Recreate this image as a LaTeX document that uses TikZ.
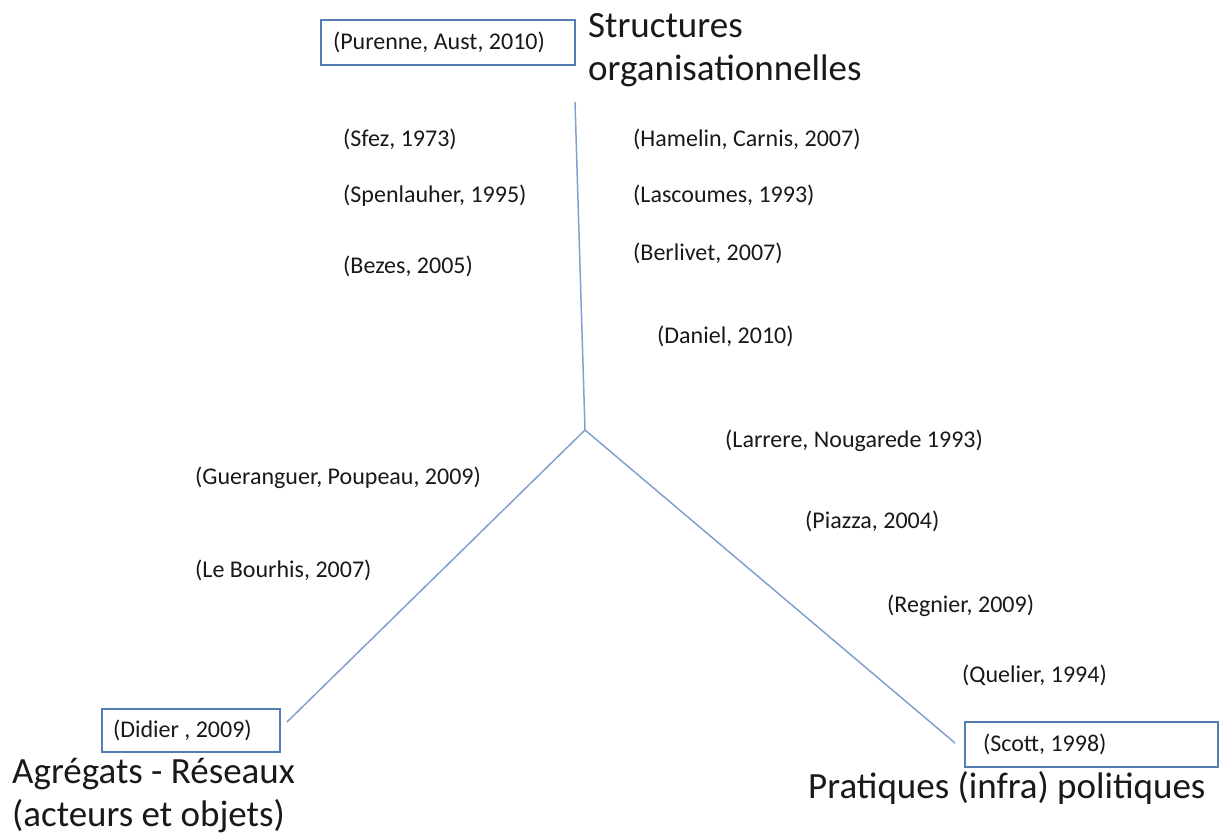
\documentclass[tikz,border=0pt]{standalone}
\usepackage{fontspec}
\setmainfont{Carlito}
\definecolor{linecol}{RGB}{130,160,208}
\definecolor{boxcol}{RGB}{85,125,180}
\definecolor{txtcol}{RGB}{25,25,25}
\begin{document}
\begin{tikzpicture}[x=1pt,y=-1pt,
  ref/.style={anchor=base west,inner sep=0pt,text=txtcol,font=\fontsize{24}{29}\selectfont},
  big/.style={anchor=base west,inner sep=0pt,text=txtcol,align=left,font=\fontsize{37}{43}\selectfont},
  refbox/.style={draw=boxcol,line width=1.2pt,rectangle,text=txtcol,
     font=\fontsize{24}{29}\selectfont,inner ysep=0pt},
  axis/.style={draw=linecol,line width=1.5pt}]
\useasboundingbox (0,0) rectangle (1221,834);
\fill[white] (0,0) rectangle (1221,834);

% hub and axis ends
\coordinate (hub) at (585,430);
\coordinate (topend) at (575,102);
\coordinate (leftend) at (287,722);
\coordinate (rightend) at (955,743);
\draw[axis] (hub) -- (topend);
\draw[axis] (hub) -- (leftend);
\draw[axis] (hub) -- (rightend);

% boxes
\node[refbox,minimum width=254pt,minimum height=45pt,inner xsep=12pt] (purenne) at (448,42.5) {\makebox[230pt][l]{(Purenne, Aust, 2010)}};
\node[refbox,minimum width=178pt,minimum height=43pt,inner xsep=11pt] (didier) at (191,730.5) {\makebox[156pt][l]{(Didier , 2009)}};
\node[refbox,minimum width=253pt,minimum height=45pt,inner xsep=18pt] (scott) at (1091.5,744.5) {\makebox[217pt][l]{(Scott, 1998)}};

% big titles (anchor = baseline of last line)
\node[big] (structures) at (588,81) {Structures\\organisationnelles};
\node[big] (agregats) at (12,826) {Agrégats - Réseaux\\(acteurs et objets)};
\node[big] (pratiques) at (808,798) {Pratiques (infra) politiques};

% references
\node[ref] (sfez) at (343,147) {(Sfez, 1973)};
\node[ref] (spen) at (343,203) {(Spenlauher, 1995)};
\node[ref] (bezes) at (343,274) {(Bezes, 2005)};
\node[ref] (hamelin) at (633,147) {(Hamelin, Carnis, 2007)};
\node[ref] (lasc) at (633,203) {(Lascoumes, 1993)};
\node[ref] (berl) at (633,261) {(Berlivet, 2007)};
\node[ref] (daniel) at (657,344) {(Daniel, 2010)};
\node[ref] (larrere) at (725,447) {(Larrere, Nougarede 1993)};
\node[ref] (guer) at (195,484) {(Gueranguer, Poupeau, 2009)};
\node[ref] (piazza) at (805,528) {(Piazza, 2004)};
\node[ref] (bourhis) at (195,577) {(Le Bourhis, 2007)};
\node[ref] (regnier) at (887,612) {(Regnier, 2009)};
\node[ref] (quelier) at (962,682) {(Quelier, 1994)};
\end{tikzpicture}
\end{document}
